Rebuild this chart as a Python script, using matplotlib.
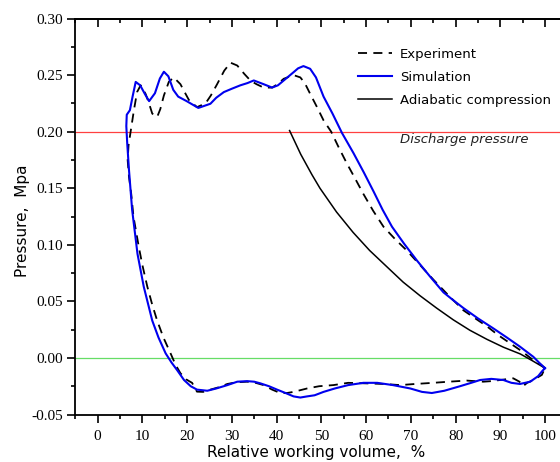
import matplotlib
matplotlib.use("Agg")
import matplotlib.pyplot as plt
from matplotlib.ticker import MultipleLocator


# simulation loop (blue), traced from x=100 along the upper branch and back along the lower one
sim_x = [100, 98.9, 97.4, 94.4, 91.5, 88.5, 85, 81.8, 79.5, 77.3, 74.3, 71.4, 68.5, 65.8, 63.7,
         61.7, 59.5, 57.2, 54.6, 52.5, 50.5, 48.8, 47.5, 46, 44.8, 43.8, 41.6, 40.3, 39, 37.1,
         34.9, 33.5, 31.9, 30, 28.2, 26.5, 25.2, 22.5, 19.9, 18, 16.9, 15.8, 14.8, 13.9, 12.8,
         11.5, 10.6, 9.5, 8.5, 7.8, 7.2, 6.5, 6.4, 6.6, 7.0, 7.7, 8.9, 10.3, 12.2, 13.6, 15.2,
         16.5, 17.8, 19.3, 20.8, 22.2, 24.5, 26.5, 29, 31.2, 33.4, 35, 36.4, 38.3, 40.1, 42,
         43.8, 45.3, 46.8, 48.5, 50.5, 53, 56, 59.4, 62.5, 66, 69.9, 72.5, 74.7, 77.5, 81,
         83.5, 85.5, 88, 90.7, 92.5, 94.4, 96.7, 98.5, 99.3, 100]
sim_p = [-0.009, -0.005, 0.001, 0.010, 0.018, 0.026, 0.035, 0.044, 0.051, 0.058, 0.072, 0.086,
         0.101, 0.116, 0.131, 0.147, 0.164, 0.181, 0.199, 0.216, 0.231, 0.248, 0.2556, 0.258,
         0.256, 0.2526, 0.2453, 0.241, 0.239, 0.242, 0.2453, 0.243, 0.241, 0.238, 0.235, 0.230,
         0.2247, 0.221, 0.227, 0.231, 0.237, 0.249, 0.253, 0.247, 0.234, 0.227, 0.233, 0.241,
         0.244, 0.231, 0.219, 0.215, 0.205, 0.190, 0.166, 0.131, 0.092, 0.063, 0.033, 0.018,
         0.004, -0.004, -0.011, -0.0195, -0.025, -0.028, -0.029, -0.027, -0.024, -0.021,
         -0.0205, -0.021, -0.0225, -0.025, -0.028, -0.031, -0.034, -0.035, -0.034, -0.033,
         -0.030, -0.027, -0.024, -0.022, -0.022, -0.024, -0.027, -0.030, -0.031, -0.029,
         -0.025, -0.022, -0.0195, -0.0185, -0.0195, -0.022, -0.023, -0.021, -0.016, -0.012,
         -0.009]

# experiment loop (dashed)
exp_x = [100, 98.8, 97.4, 94.8, 92.2, 89.6, 87.0, 84.4, 81.8, 78.5, 75.1, 72.1, 69.1, 66.5,
         63.9, 61.6, 59.4, 57.5, 55.7, 53.9, 52.2, 50.5, 49, 47.5, 46.3, 45.3, 43.8, 41.6, 40.2,
         39, 37.1, 35.5, 34.2, 32.8, 31.2, 29.7, 28.3, 26.7, 25.3, 24.1, 22.2, 20.4, 19.3, 18.5,
         17, 15.9, 14.8, 14, 13.3, 12.2, 11.4, 10.7, 9.6, 8.8, 8.1, 7.4, 6.9, 6.7, 7.0, 7.5, 8.0,
         9.2, 10.0, 11.1, 12.2, 13.3, 14.7, 16.3, 17.4, 18.5, 19.8, 21.1, 22.2, 23.6, 25.2, 27,
         29, 31, 33.4, 35.3, 37.1, 39, 40.8, 42.3, 43.8, 45.3, 46.8, 49.5, 52.7, 56, 60.2, 64,
         67.6, 71, 75, 78.5, 82.5, 86.2, 88, 90, 92.9, 94.3, 95.1, 96.0, 97.4, 99.3, 100]
exp_p = [-0.009, -0.005, -0.002, 0.006, 0.013, 0.020, 0.028, 0.035, 0.042, 0.055, 0.069, 0.082,
         0.095, 0.105, 0.116, 0.130, 0.145, 0.159, 0.172, 0.186, 0.200, 0.210, 0.222, 0.2335,
         0.243, 0.248, 0.250, 0.2468, 0.242, 0.239, 0.239, 0.242, 0.245, 0.251, 0.2585, 0.261,
         0.254, 0.242, 0.232, 0.225, 0.2217, 0.228, 0.236, 0.242, 0.248, 0.244, 0.232, 0.220,
         0.213, 0.216, 0.226, 0.2335, 0.241, 0.235, 0.219, 0.201, 0.188, 0.175, 0.160, 0.145,
         0.125, 0.098, 0.082, 0.063, 0.047, 0.033, 0.018, 0.004, -0.006, -0.0135, -0.019,
         -0.022, -0.0298, -0.030, -0.028, -0.026, -0.023, -0.0215, -0.021, -0.022, -0.024,
         -0.028, -0.031, -0.031, -0.030, -0.0285, -0.027, -0.025, -0.024, -0.022, -0.0225,
         -0.023, -0.024, -0.023, -0.022, -0.021, -0.020, -0.021, -0.0205, -0.0195, -0.018,
         -0.021, -0.025, -0.022, -0.0195, -0.015, -0.009]

# adiabatic compression
adi_x = [42.9, 45.4, 47.9, 49.7, 53.4, 57.1, 60.8, 64.6, 68.3, 72.1, 75.8, 79.5, 83.2, 87.0,
         90.7, 94.5, 97.2, 100]
adi_p = [0.201, 0.180, 0.162, 0.150, 0.129, 0.111, 0.095, 0.0808, 0.067, 0.0549, 0.044,
         0.0337, 0.0245, 0.0165, 0.0095, 0.0035, -0.0025, -0.009]

discharge_p = 0.20
zero_p = 0.0

fig = plt.figure(figsize=(5.6, 4.62), dpi=100)
ax = fig.add_axes([0.1345, 0.1028, 0.8786, 0.857])

ax.axhline(discharge_p, color="#ff4040", lw=0.9, zorder=1)
ax.axhline(zero_p, color="#66dd66", lw=0.9, zorder=1)

ax.plot(exp_x, exp_p, color="black", lw=1.3, dashes=(5, 3.5), label="Experiment", zorder=3)
ax.plot(sim_x, sim_p, color="#0000ee", lw=1.5, label="Simulation", zorder=4)
ax.plot(adi_x, adi_p, color="black", lw=1.1, label="Adiabatic compression", zorder=3)

ax.text(67.6, 0.1928, "Discharge pressure", style="italic", fontsize=9.5,
        color="#222222", va="center", family="DejaVu Sans")

ax.set_xlim(-5, 105)
ax.set_ylim(-0.05, 0.30)
ax.xaxis.set_major_locator(MultipleLocator(10))
ax.xaxis.set_minor_locator(MultipleLocator(5))
ax.yaxis.set_minor_locator(MultipleLocator(0.025))
ax.set_yticks([-0.05, 0, 0.05, 0.10, 0.15, 0.20, 0.25, 0.30])
ax.set_yticklabels(["-0.05", "0.00", "0.05", "0.10", "0.15", "0.20", "0.25", "0.30"])

for s in ["left", "bottom", "top", "right"]:
    ax.spines[s].set_linewidth(1.3)

ax.tick_params(which="both", direction="out", width=1.2, top=False)
ax.tick_params(which="major", length=6, pad=3)
ax.tick_params(which="minor", length=3)
ax.tick_params(axis="x", which="major", pad=5)
for lab in ax.get_xticklabels() + ax.get_yticklabels():
    lab.set_family("Liberation Serif")
    lab.set_fontsize(11)

# top ticks point into the axes
sec = ax.secondary_xaxis("top")
sec.xaxis.set_major_locator(MultipleLocator(10))
sec.xaxis.set_minor_locator(MultipleLocator(5))
sec.tick_params(which="both", direction="in", width=1.2, labeltop=False)
sec.tick_params(which="major", length=6)
sec.tick_params(which="minor", length=3)
sec.spines["top"].set_linewidth(1.3)

ax.set_xlabel("Relative working volume,  %", fontsize=11, family="DejaVu Sans")
ax.set_ylabel("Pressure,  Mpa", fontsize=11, family="DejaVu Sans")
ax.xaxis.set_label_coords(0.49, -0.077)
ax.yaxis.set_label_coords(-0.092, 0.49)

ax.legend(loc="upper left", bbox_to_anchor=(358 / 560, 1 - 48 / 462),
          bbox_transform=fig.transFigure, frameon=False,
          handlelength=2.6, handletextpad=0.6, labelspacing=0.75,
          borderpad=0, borderaxespad=0, prop={"family": "DejaVu Sans", "size": 9.5})

fig.savefig("out.png", dpi=100)
